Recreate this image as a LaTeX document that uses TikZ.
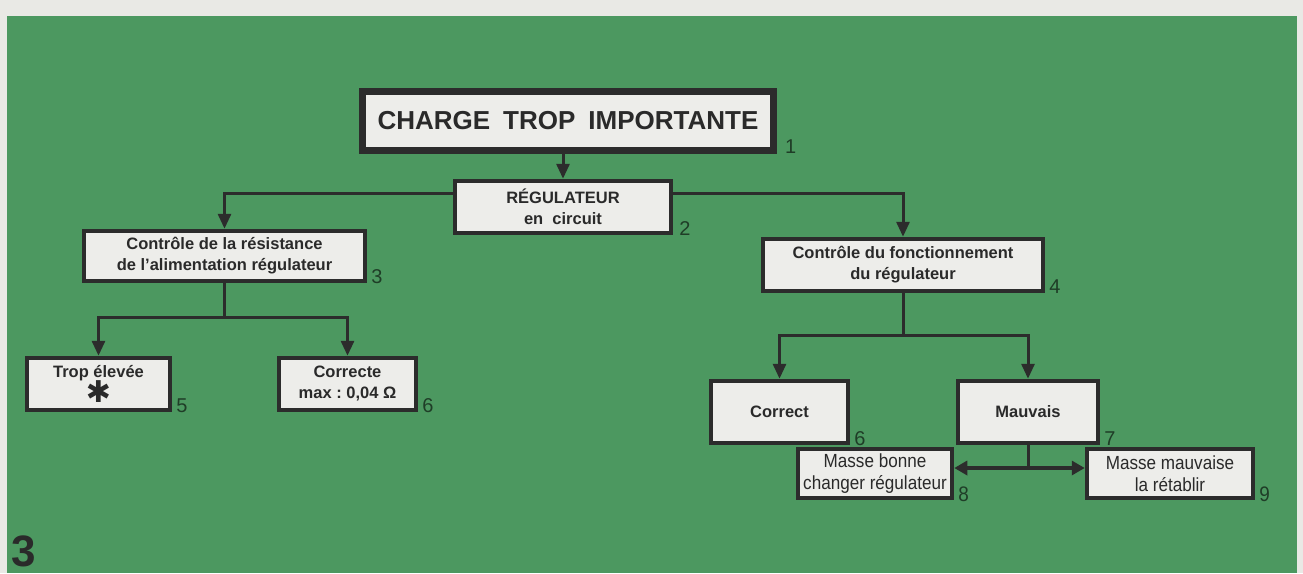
\documentclass[tikz,border=0pt]{standalone}
\usepackage{fontspec}
\setmainfont{Liberation Sans}
\newfontfamily\condfont[FakeStretch=0.9]{Liberation Sans}
\newfontfamily\symfont{DejaVu Sans}
\usetikzlibrary{arrows.meta}
\definecolor{bggray}{HTML}{E9E9E5}
\definecolor{pgreen}{RGB}{76,152,96}
\definecolor{boxc}{HTML}{2C2C2C}
\definecolor{boxfill}{HTML}{EDEDEA}
\definecolor{txt}{HTML}{2A2A2A}
\definecolor{numc}{HTML}{1F3D27}
\begin{document}
\begin{tikzpicture}[x=1pt,y=-1pt,
  bx/.style={draw=boxc, fill=boxfill, line width=4.5pt, text=txt, align=center, inner sep=0pt,
             font=\bfseries\fontsize{16.5}{21}\selectfont},
  condbx/.style={bx, font=\condfont\fontsize{19}{22}\selectfont},
  ln/.style={draw=boxc, line width=3pt},
  arr/.style={ln, -{Triangle[width=13pt,length=15pt]}},
  dblarr/.style={draw=boxc, line width=4.5pt, {Triangle[width=14pt,length=13pt]}-{Triangle[width=14pt,length=13pt]}},
  lbl/.style={text=numc, font=\fontsize{20}{20}\selectfont, inner sep=0pt, anchor=base west}]
\useasboundingbox (0,0) rectangle (1303,573);
\fill[bggray] (0,0) rectangle (1303,573);
\fill[pgreen] (7,16) rectangle (1297,573);

% boxes
\node[bx, line width=7pt, minimum width=411pt, minimum height=59pt,
      font=\bfseries\fontsize{26}{26}\selectfont] (b1) at (568,121)
      {CHARGE\hspace{0.5em}TROP\hspace{0.5em}IMPORTANTE};
\node[bx, minimum width=216pt, minimum height=52pt] (b2) at (563,207) {RÉGULATEUR\\en\ \ circuit};
\node[bx, minimum width=281pt, minimum height=50pt] (b3) at (224.5,256)
      {Contrôle\ de\ la\ résistance\\de\ l’alimentation\ régulateur};
\node[bx, minimum width=280pt, minimum height=52pt] (b4) at (903,265)
      {Contrôle\ du\ fonctionnement\\du\ régulateur};
\node[bx, minimum width=143pt, minimum height=52pt] (b5) at (98.5,384)
      {Trop\ élevée\\[-1pt]{\symfont\fontsize{30}{22}\selectfont ✱}};
\node[bx, minimum width=137pt, minimum height=52pt] (b6) at (347.5,384)
      {Correcte\\max\ :\ 0,04\ Ω};
\node[bx, minimum width=137pt, minimum height=62pt] (b7) at (779.5,412) {Correct};
\node[bx, minimum width=140pt, minimum height=62pt] (b8) at (1028,412) {Mauvais};
\node[condbx, minimum width=154pt, minimum height=49pt] (b9) at (875,473.5)
      {Masse bonne\\changer régulateur};
\node[condbx, minimum width=166pt, minimum height=49pt] (b10) at (1170,473.5)
      {Masse mauvaise\\la rétablir};

% connectors
\coordinate (hL) at (224.5,193);
\coordinate (hR) at (903,193);
\coordinate (j3) at (224.5,317);
\coordinate (j4) at (903,335);
\coordinate (j8) at (1028,468);
\draw[arr] (b1.south -| b2.north) -- (b2.north);
\draw[arr] (b2.west |- hL) -| (b3.north);
\draw[arr] (b2.east |- hR) -| (b4.north);
\draw[ln] (b3.south) -- (j3);
\draw[arr] (j3) -| (b5.north);
\draw[arr] (j3) -| (b6.north);
\draw[ln] (b4.south) -- (j4);
\draw[arr] (j4) -| (b7.north);
\draw[arr] (j4) -| (b8.north);
\draw[ln] (b8.south) -- (j8);
\draw[dblarr] (b9.east |- j8) -- (b10.west |- j8);

% numbers
\node[lbl] (n1) at ([xshift=8pt,yshift=1pt]b1.south east) {1};
\node[lbl] (n2) at ([xshift=6pt]b2.south east) {2};
\node[lbl] (n3) at ([xshift=4pt]b3.south east) {3};
\node[lbl] (n4) at ([xshift=4pt]b4.south east) {4};
\node[lbl] (n5) at ([xshift=4pt]b5.south east) {5};
\node[lbl] (n6) at ([xshift=4pt]b6.south east) {6};
\node[lbl] (n6b) at ([xshift=4pt]b7.south east) {6};
\node[lbl] (n7) at ([xshift=4pt]b8.south east) {7};
\node[lbl, font=\condfont\fontsize{21}{21}\selectfont] (n8) at ([xshift=4pt,yshift=-1pt]b9.south east) {8};
\node[lbl, font=\condfont\fontsize{21}{21}\selectfont] (n9) at ([xshift=4pt,yshift=-1pt]b10.south east) {9};

\node[text=txt, font=\bfseries\fontsize{44}{44}\selectfont, inner sep=0pt, anchor=base west] (fig) at (11,566) {3};
\end{tikzpicture}
\end{document}
